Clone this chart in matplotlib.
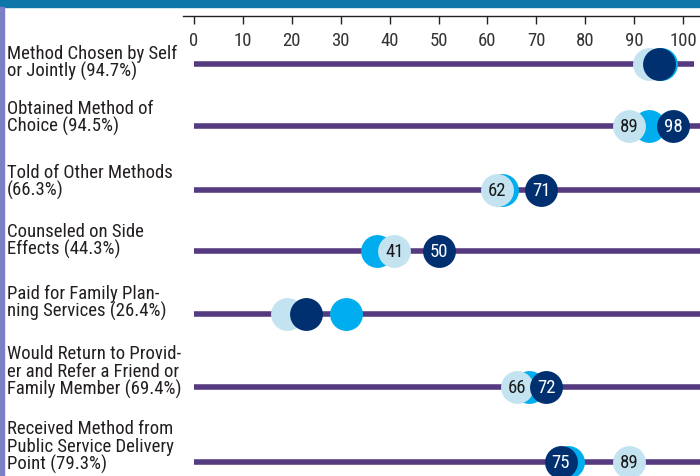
import matplotlib
matplotlib.use("Agg")
import matplotlib.pyplot as plt
import matplotlib.transforms as mtransforms

categories = [
    "Method Chosen by Self\nor Jointly (94.7%)",
    "Obtained Method of\nChoice (94.5%)",
    "Told of Other Methods\n(66.3%)",
    "Counseled on Side\nEffects (44.3%)",
    "Paid for Family Plan-\nning Services (26.4%)",
    "Would Return to Provid-\ner and Refer a Friend or\nFamily Member (69.4%)",
    "Received Method from\nPublic Service Delivery\nPoint (79.3%)",
]
light_vals = [93, 89, 62, 41, 19, 66, 89]
cyan_vals = [95.5, 93, 63, 37.5, 31, 68.5, 76.5]
dark_vals = [95, 98, 71, 50, 23, 72, 75]
light_labels = [None, "89", "62", "41", None, "66", "89"]
dark_labels = [None, "98", "71", "50", None, "72", "75"]
ticks = list(range(0, 101, 10))

FONT = ["Roboto Condensed", "DejaVu Sans"]
plt.rcParams["font.family"] = FONT

W, H, DPI = 700, 477, 100
fig = plt.figure(figsize=(W / DPI, H / DPI), dpi=DPI)

# layout (pixel units)
row_y = [65, 127, 191, 252, 315, 388, 463]
label_base = [77, 132, 196, 255, 317, 395, 470]
line_end = [102.2, 103.5, 103.5, 103.5, 103.5, 103.5, 103.5]
ax_left_px, ax_top_px = 183, 17
x0_px, x100_px = 194, 683
ppu = (x100_px - x0_px) / 100
xmin = -(x0_px - ax_left_px) / ppu
xmax = 100 + (W - x100_px) / ppu

ax = fig.add_axes([ax_left_px / W, 0, (W - ax_left_px) / W, (H - ax_top_px) / H])
ax.set_xlim(xmin, xmax)
ax.set_ylim(H, ax_top_px)
ax.patch.set_alpha(0)
for s in ["left", "right", "bottom"]:
    ax.spines[s].set_visible(False)
ax.spines["top"].set_color("#222222")
ax.spines["top"].set_linewidth(1.0)
ax.xaxis.tick_top()
ax.set_xticks(ticks)
ax.set_xticklabels([str(t) for t in ticks])
ax.tick_params(axis="x", direction="in", length=6, width=1, color="#222222",
               labelsize=13.5, labelcolor="#333333", pad=-24)
ax.set_yticks([])

purple = "#553A80"
c_light = "#C4E3F0"
c_cyan = "#00AEEF"
c_dark = "#00306F"

ax.hlines(row_y, 0, line_end, color=purple, lw=4, zorder=1, capstyle="butt")
S = 560
ax.scatter(cyan_vals, row_y, s=S, color=c_cyan, zorder=2, linewidths=0)
ax.scatter(light_vals, row_y, s=S, color=c_light, zorder=3, linewidths=0)
ax.scatter(dark_vals, row_y, s=S, color=c_dark, zorder=4, linewidths=0)
for v, y, lab in zip(light_vals, row_y, light_labels):
    if lab:
        ax.text(v, y, lab, ha="center", va="center", fontsize=13.5, color="#1a1a1a", zorder=5)
for v, y, lab in zip(dark_vals, row_y, dark_labels):
    if lab:
        ax.text(v, y, lab, ha="center", va="center", fontsize=13.5, color="white", zorder=5)

trans = mtransforms.blended_transform_factory(fig.transFigure, ax.transData)
for cat, yb in zip(categories, label_base):
    fig.text(7 / W, yb, cat, transform=trans, ha="left", va="baseline",
             fontsize=13.5, color="#231F20", linespacing=0.97)

# decorations
fig.patches.append(plt.Rectangle((0, 1 - 8 / H), 1, 8 / H, transform=fig.transFigure,
                                 color="#0E76A8", zorder=0))
fig.patches.append(plt.Rectangle((0, 0), 4 / W, 1 - 8 / H, transform=fig.transFigure,
                                 color="#7A7FC6", zorder=0))

fig.savefig("out.png", dpi=DPI)
